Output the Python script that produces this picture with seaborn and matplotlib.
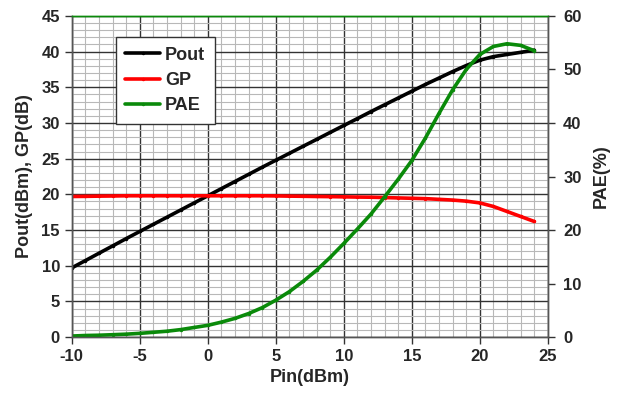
import numpy as np
import pandas as pd
import matplotlib
matplotlib.use("Agg")
import matplotlib.pyplot as plt
from matplotlib.ticker import MultipleLocator
import seaborn as sns

# values
pin = list(range(-10, 25))
gp = [19.7, 19.72, 19.75, 19.77, 19.8, 19.8, 19.8, 19.8, 19.8, 19.8,
      19.8, 19.8, 19.8, 19.8, 19.8, 19.78, 19.75, 19.73, 19.7, 19.68,
      19.65, 19.62, 19.6, 19.55, 19.5, 19.45, 19.4, 19.3, 19.2, 19.05,
      18.8, 18.3, 17.6, 16.9, 16.2]
pout = [9.7, 10.72, 11.75, 12.77, 13.8, 14.8, 15.8, 16.8, 17.8, 18.8,
        19.8, 20.8, 21.8, 22.8, 23.8, 24.78, 25.75, 26.73, 27.7, 28.68,
        29.65, 30.62, 31.6, 32.55, 33.5, 34.45, 35.4, 36.3, 37.2, 38.05,
        38.8, 39.3, 39.6, 39.9, 40.2]
pae = [0.2, 0.3, 0.35, 0.45, 0.55, 0.7, 0.9, 1.1, 1.4, 1.8,
       2.2, 2.8, 3.5, 4.4, 5.5, 6.9, 8.5, 10.4, 12.5, 14.9,
       17.5, 20.2, 23.0, 26.2, 29.5, 33.0, 37.2, 41.8, 46.2, 50.0,
       52.8, 54.3, 54.8, 54.5, 53.5]

df = pd.DataFrame({"Pin": pin, "Pout": pout, "GP": gp, "PAE": pae})

sns.set_style("white")
plt.rcParams["font.family"] = ["Liberation Sans", "DejaVu Sans"]
plt.rcParams["font.weight"] = "bold"
plt.rcParams["axes.unicode_minus"] = False

fig = plt.figure(figsize=(6.24, 3.98), dpi=100)
ax = fig.add_axes([0.115, 0.153, 0.763, 0.807])
ax2 = ax.twinx()

lw = 2.6
sns.lineplot(data=df, x="Pin", y="Pout", ax=ax, color="black", lw=lw, marker="o", markersize=2.5, markeredgewidth=0, label="Pout", legend=False)
sns.lineplot(data=df, x="Pin", y="GP", ax=ax, color="#ff0000", lw=lw, marker="o", markersize=2.5, markeredgewidth=0, label="GP", legend=False)
sns.lineplot(data=df, x="Pin", y="PAE", ax=ax2, color="#0a8a0a", lw=lw, marker="o", markersize=2.5, markeredgewidth=0, label="PAE", legend=False)

ax.set_xlim(-10, 25)
ax.set_ylim(0, 45)
ax2.set_ylim(0, 60)
ax.xaxis.set_major_locator(MultipleLocator(5))
ax.xaxis.set_minor_locator(MultipleLocator(1))
ax.yaxis.set_major_locator(MultipleLocator(5))
ax.yaxis.set_minor_locator(MultipleLocator(1))
ax2.yaxis.set_major_locator(MultipleLocator(10))

ax.grid(which="minor", color="#b8b8b8", lw=0.8)
ax.grid(which="major", color="#333333", lw=1.0)
ax.set_axisbelow(True)
ax2.grid(False)

ax.tick_params(which="major", direction="out", length=5, width=1, color="#333333", labelsize=12, bottom=True, left=True)
ax.tick_params(which="minor", length=0)
ax2.tick_params(which="major", direction="out", length=5, width=1, color="#333333", labelsize=12, right=True, pad=6)

for a in (ax, ax2):
    for s in a.spines.values():
        s.set_color("#555555")
        s.set_linewidth(1.0)
    a.spines["top"].set_color("#0a8a0a")
    for lab in a.get_xticklabels() + a.get_yticklabels():
        lab.set_fontweight("bold")

ax.set_xlabel("Pin(dBm)", fontsize=13, fontweight="bold", labelpad=4)
ax.set_ylabel("Pout(dBm), GP(dB)", fontsize=13, fontweight="bold", labelpad=6)
ax2.set_ylabel("PAE(%)", fontsize=13, fontweight="bold", labelpad=8)

h1, l1 = ax.get_legend_handles_labels()
h2, l2 = ax2.get_legend_handles_labels()
leg = ax.legend(h1 + h2, l1 + l2, loc="upper left", bbox_to_anchor=(0.092, 0.935),
                frameon=True, fancybox=False, framealpha=1, edgecolor="#333333",
                prop={"weight": "bold", "size": 13}, handlelength=1.9, handletextpad=0.3,
                labelspacing=0.45, borderpad=0.55, borderaxespad=0.0)
leg.get_frame().set_linewidth(1.0)
leg.set_zorder(10)

fig.savefig("out.png", dpi=100)
